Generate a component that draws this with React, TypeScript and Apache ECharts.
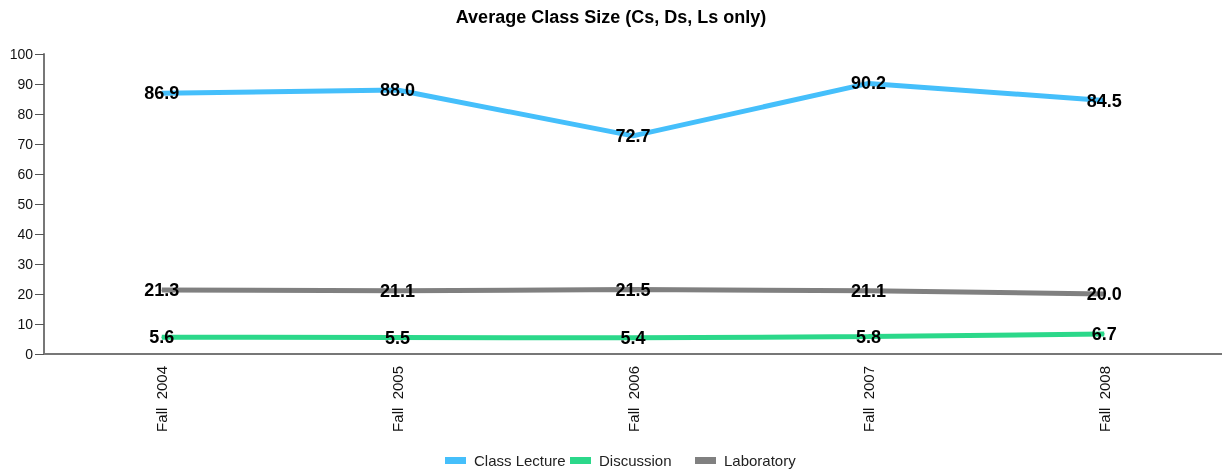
import React, { useEffect, useRef } from "react";
import * as echarts from "echarts";

const categories = ["Fall  2004", "Fall  2005", "Fall  2006", "Fall  2007", "Fall  2008"];
const classLecture = [86.9, 88.0, 72.7, 90.2, 84.5];
const discussion = [5.6, 5.5, 5.4, 5.8, 6.7];
const laboratory = [21.3, 21.1, 21.5, 21.1, 20.0];

const seriesNames = ["Class Lecture", "Discussion", "Laboratory"];
const seriesColors = ["#45bffb", "#2bd88a", "#808080"];
const legendLefts = [445, 570, 695];

export default function App() {
  const ref = useRef<HTMLDivElement>(null);
  useEffect(() => {
    if (!ref.current) return;
    const chart = echarts.init(ref.current, null, { renderer: "svg" });
    const datasets = [classLecture, discussion, laboratory];
    chart.setOption({
      animation: false,
      title: {
        text: "Average Class Size (Cs, Ds, Ls only)",
        left: "center",
        top: 3,
        textStyle: { fontFamily: "Liberation Sans, Arial", fontSize: 18, fontWeight: "bold", color: "#000" },
      },
      legend: seriesNames.map((n, i) => ({
        top: 453,
        left: legendLefts[i],
        padding: 0,
        itemWidth: 21,
        itemHeight: 7,
        icon: "rect",
        data: [n],
        textStyle: { fontFamily: "Liberation Sans, Arial", fontSize: 15, color: "#222", padding: [0, 0, 0, 3] },
      })),
      grid: { left: 44, top: 54, width: 1187, height: 300 },
      xAxis: {
        type: "category",
        data: categories,
        boundaryGap: true,
        axisLine: { lineStyle: { color: "#777", width: 2 } },
        axisTick: { length: 11, lineStyle: { color: "#333", width: 1 } },
        axisLabel: {
          rotate: 90,
          margin: 12,
          fontFamily: "Liberation Sans, Arial",
          fontSize: 15,
          color: "#111",
        },
      },
      yAxis: {
        type: "value",
        min: 0,
        max: 100,
        interval: 10,
        splitLine: { show: false },
        axisLine: { show: true, lineStyle: { color: "#777", width: 2 } },
        axisTick: { show: true, length: 9, lineStyle: { color: "#555" } },
        axisLabel: { fontFamily: "Liberation Sans, Arial", fontSize: 14, color: "#111", margin: 11 },
      },
      series: datasets.map((d, i) => ({
        name: seriesNames[i],
        type: "line",
        data: d,
        color: seriesColors[i],
        symbol: "circle",
        symbolSize: 1,
        showSymbol: true,
        lineStyle: { width: 5, color: seriesColors[i] },
        itemStyle: { color: seriesColors[i] },
        label: {
          show: true,
          position: "inside",
          formatter: (p: any) => Number(p.value).toFixed(1),
          fontFamily: "Liberation Sans, Arial",
          fontSize: 18,
          fontWeight: "bold",
          color: "#000",
        },
        z: 3,
      })),
    });
    return () => chart.dispose();
  }, []);
  return <div ref={ref} style={{ position: "fixed", left: 0, top: 0, width: 1222, height: 472 }} />;
}
